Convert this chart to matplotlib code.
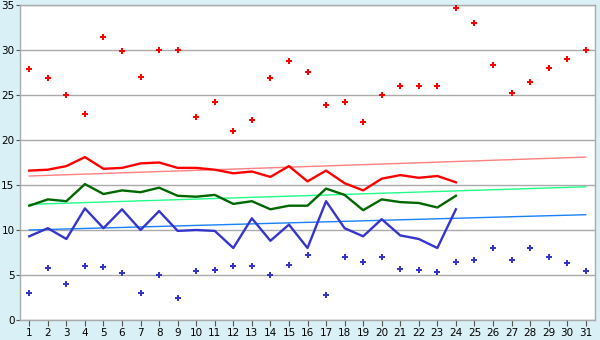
import matplotlib
matplotlib.use("Agg")
import matplotlib.pyplot as plt
from matplotlib.ticker import MultipleLocator

days = list(range(1, 32))

# daily extremes (points)
max_temp = [27.9, 26.9, 25.0, 22.9, 31.4, 29.9, 27.0, 30.0, 30.0, 22.6,
            24.2, 21.0, 22.2, 26.9, 28.8, 27.6, 23.9, 24.2, 22.0, 25.0,
            26.0, 26.0, 26.0, 34.7, 33.0, 28.3, 25.2, 26.4, 28.0, 29.0, 30.0]
min_temp = [3.0, 5.8, 4.0, 6.0, 5.9, 5.2, 3.0, 5.0, 2.4, 5.4,
            5.6, 6.0, 6.0, 5.0, 6.1, 7.2, 2.8, 7.0, 6.5, 7.0,
            5.7, 5.6, 5.3, 6.4, 6.7, 8.0, 6.7, 8.0, 7.0, 6.3, 5.4]

# running averages (first 24 days)
avg_days = list(range(1, 25))
avg_max = [16.6, 16.7, 17.1, 18.1, 16.8, 16.9, 17.4, 17.5, 16.9, 16.9,
           16.7, 16.3, 16.5, 15.9, 17.1, 15.4, 16.6, 15.2, 14.4, 15.7,
           16.1, 15.8, 16.0, 15.3]
avg_mean = [12.7, 13.4, 13.2, 15.1, 14.0, 14.4, 14.2, 14.7, 13.8, 13.7,
            13.9, 12.9, 13.2, 12.3, 12.7, 12.7, 14.6, 13.9, 12.2, 13.4,
            13.1, 13.0, 12.5, 13.8]
avg_min = [9.3, 10.2, 9.0, 12.4, 10.2, 12.3, 10.0, 12.1, 9.9, 10.0,
           9.9, 8.0, 11.3, 8.8, 10.6, 8.0, 13.2, 10.2, 9.3, 11.2,
           9.4, 9.0, 8.0, 12.3]

# long-term reference lines (value on day 1 and day 31)
trend_days = [1, 31]
ref_max = [16.0, 18.1]
ref_mean = [12.85, 14.8]
ref_min = [10.0, 11.7]

bg = "#d9f0f6"
fig = plt.figure(figsize=(6, 3.4), dpi=100, facecolor=bg)
ax = fig.add_axes([20 / 600, 20 / 340, 575 / 600, 315 / 340])
ax.set_facecolor("white")

ax.plot(trend_days, ref_max, color="#ff8080", lw=1.0, zorder=2)
ax.plot(trend_days, ref_mean, color="#22ff88", lw=1.0, zorder=2)
ax.plot(trend_days, ref_min, color="#1a80ff", lw=1.0, zorder=2)

ax.plot(avg_days, avg_max, color="#ff0000", lw=1.7, zorder=3)
ax.plot(avg_days, avg_mean, color="#006600", lw=1.7, zorder=3)
ax.plot(avg_days, avg_min, color="#3535cc", lw=1.7, zorder=3)

ax.plot(days, max_temp, ls="none", marker="P", ms=5.0, color="#ff0000",
        mew=0, zorder=4)
ax.plot(days, min_temp, ls="none", marker="P", ms=5.0, color="#3535cc",
        mew=0, zorder=4)

ax.set_xlim(0.5, 31.5)
ax.set_ylim(0, 35)
ax.set_xticks(days)
ax.yaxis.set_major_locator(MultipleLocator(5))
ax.grid(axis="y", color="#aaaaaa", lw=1.0, zorder=1)
ax.set_axisbelow(True)
for s in ax.spines.values():
    s.set_color("#aaaaaa")
    s.set_linewidth(1.0)
ax.tick_params(axis="x", length=4, width=0.8, color="#555555",
               labelsize=7.5, pad=2)
ax.tick_params(axis="y", length=3, width=0.8, color="#555555",
               labelsize=7.5, pad=1)

fig.savefig("out.png", dpi=100, facecolor=bg)
